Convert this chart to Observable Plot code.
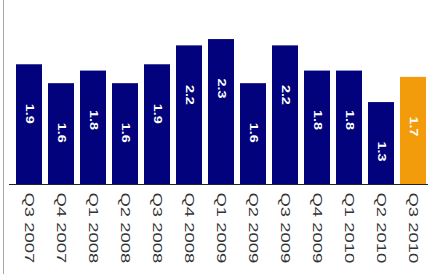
<!DOCTYPE html>
<html>
<head>
<meta charset="utf-8">
<script src="https://cdn.jsdelivr.net/npm/d3@7"></script>
<script src="https://cdn.jsdelivr.net/npm/@observablehq/plot@0.6"></script>
<style>
  html, body { margin: 0; padding: 0; background: #fff; }
  #wrap { position: relative; width: 428px; height: 274px; overflow: hidden; }
  #edge { position: absolute; left: 3px; top: 0; width: 1px; height: 274px; background: #a8a8a8; }
  svg { display: block; }
</style>
</head>
<body>
<div id="wrap"><div id="edge"></div></div>
<script>
const quarters = ["Q3 2007","Q4 2007","Q1 2008","Q2 2008","Q3 2008","Q4 2008","Q1 2009","Q2 2009","Q3 2009","Q4 2009","Q1 2010","Q2 2010","Q3 2010"];
const values = [1.9, 1.6, 1.8, 1.6, 1.9, 2.2, 2.3, 1.6, 2.2, 1.8, 1.8, 1.3, 1.7];
const highlight = [false,false,false,false,false,false,false,false,false,false,false,false,true];

const data = quarters.map((q, i) => ({q, v: values[i], hl: highlight[i]}));

const chart = Plot.plot({
  width: 428,
  height: 274,
  marginLeft: 9,
  marginRight: 0,
  marginTop: 0,
  marginBottom: 90,
  style: {fontFamily: "Liberation Sans, Arial, sans-serif", background: "#fff"},
  x: {domain: quarters, range: [5.5, 437], padding: 0.2, label: null},
  y: {domain: [0, 2.92], label: null, axis: null},
  marks: [
    Plot.barY(data, {x: "q", y: "v", fill: d => d.hl ? "#f39c0b" : "#02027c"}),
    Plot.ruleY([0], {stroke: "#222", strokeWidth: 1.2}),
    Plot.text(data, {x: "q", y: "v", text: d => d.v.toFixed(1), rotate: 90, dy: 49,
      fill: "#fff", fontWeight: "bold", fontSize: 11.5, className: "vlab"}),
    Plot.axisX({tickRotate: 90, tickSize: 0, tickPadding: 8, fontSize: 12.5, fill: "#333", label: null, className: "xlab"})
  ]
});
document.getElementById("wrap").appendChild(chart);

// stretch text along its direction to mimic the reference's tall glyphs
chart.querySelectorAll("g.vlab text").forEach(t => {
  t.setAttribute("transform", (t.getAttribute("transform") || "") + " scale(1.25,1)");
});
chart.querySelectorAll("g.xlab text").forEach(t => {
  t.setAttribute("transform", (t.getAttribute("transform") || "") + " scale(1.48,1)");
});
</script>
</body>
</html>
